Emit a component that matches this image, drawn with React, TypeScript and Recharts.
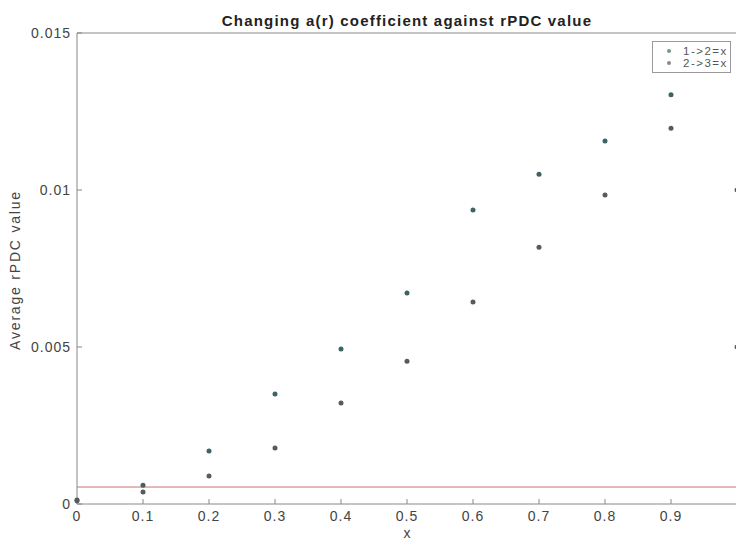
import React from 'react';
import { ScatterChart, Scatter, XAxis, YAxis, ReferenceLine, Legend } from 'recharts';

const xValues = [0, 0.1, 0.2, 0.3, 0.4, 0.5, 0.6, 0.7, 0.8, 0.9, 1];
const series1Values = [0.00013, 0.0006, 0.00169, 0.0035, 0.00494, 0.00672, 0.00936, 0.0105, 0.01156, 0.01303, 0.01];
const series2Values = [0.0001, 0.00038, 0.00089, 0.00178, 0.00322, 0.00455, 0.00643, 0.00818, 0.00984, 0.01197, 0.005];
const seriesNames = ['1->2=x', '2->3=x'];
const seriesColors = ['#3f6363', '#5a5a5a'];
const xTicks = [0, 0.1, 0.2, 0.3, 0.4, 0.5, 0.6, 0.7, 0.8, 0.9];
const yTicks = [0, 0.005, 0.01, 0.015];
const thresholdValue = 0.00054;
const titleText = 'Changing a(r) coefficient against rPDC value';
const xLabel = 'x';
const yLabel = 'Average rPDC value';

const data1 = xValues.map((x, i) => ({ x, y: series1Values[i] }));
const data2 = xValues.map((x, i) => ({ x, y: series2Values[i] }));

const FONT = '"Liberation Sans", Arial, sans-serif';

const Dot = (props: any) => {
  const { cx, cy, fill } = props;
  if (cx == null || cy == null) return null;
  return <circle cx={cx} cy={cy} r={2.5} fill={fill} />;
};

const renderLegend = () => (
  <div
    style={{
      border: '1px solid #999',
      background: '#fff',
      padding: '3px 2px 3px 14px',
      fontFamily: FONT,
      fontSize: 11.5,
      letterSpacing: '1.5px',
      color: '#555',
      lineHeight: '12px',
    }}
  >
    {seriesNames.map((n, i) => (
      <div key={n} style={{ display: 'flex', alignItems: 'center' }}>
        <span
          style={{
            display: 'inline-block',
            width: 4,
            height: 4,
            borderRadius: 2,
            background: i === 0 ? '#6f9a86' : '#8a8a8a',
            marginRight: 12,
          }}
        />
        <span>{n}</span>
      </div>
    ))}
  </div>
);

export default function App() {
  return (
    <div style={{ position: 'absolute', left: 0, top: 0, width: 736, height: 541, overflow: 'hidden', background: '#fff' }}>
      <div
        style={{
          position: 'absolute',
          left: 77,
          width: 660,
          top: 12,
          textAlign: 'center',
          fontFamily: FONT,
          fontWeight: 'bold',
          fontSize: 15,
          letterSpacing: '1.2px',
          lineHeight: '18px',
          color: '#222',
        }}
      >
        {titleText}
      </div>
      <ScatterChart width={745} height={541} margin={{ top: 3, right: 8, bottom: 0, left: 0 }}>
        <XAxis
          xAxisId="top"
          orientation="top"
          type="number"
          dataKey="x"
          domain={[0, 1]}
          ticks={xTicks}
          height={30}
          tick={false}
          tickSize={-5}
          axisLine={{ stroke: '#888' }}
          tickLine={{ stroke: '#888' }}
        />
        <XAxis
          type="number"
          dataKey="x"
          domain={[0, 1]}
          ticks={xTicks}
          height={37}
          tickSize={-5}
          tickMargin={12}
          interval={0}
          axisLine={{ stroke: '#888' }}
          tickLine={{ stroke: '#888' }}
          tick={{ fill: '#444', fontSize: 14, fontFamily: FONT, style: { letterSpacing: '1px' } }}
          label={{ value: xLabel, position: 'insideBottom', offset: 3, fill: '#444', fontSize: 14, fontFamily: FONT }}
        />
        <YAxis
          type="number"
          dataKey="y"
          domain={[0, 0.015]}
          ticks={yTicks}
          width={77}
          tickSize={-5}
          tickMargin={11}
          interval={0}
          axisLine={{ stroke: '#888' }}
          tickLine={{ stroke: '#888' }}
          tick={{ fill: '#444', fontSize: 14, fontFamily: FONT, style: { letterSpacing: '1px' } }}
          label={{
            content: () => (
              <text
                x={20}
                y={270}
                transform="rotate(-90 20 270)"
                textAnchor="middle"
                fill="#444"
                fontSize={14}
                fontFamily={FONT}
                style={{ letterSpacing: '1.8px' }}
              >
                {yLabel}
              </text>
            ),
          }}
        />
        <ReferenceLine y={thresholdValue} stroke="#d07070" strokeWidth={1} ifOverflow="extendDomain" />
        <Scatter name={seriesNames[0]} data={data1} fill={seriesColors[0]} shape={<Dot />} isAnimationActive={false} />
        <Scatter name={seriesNames[1]} data={data2} fill={seriesColors[1]} shape={<Dot />} isAnimationActive={false} />
        <Legend
          layout="vertical"
          align="center"
          verticalAlign="middle"
          content={renderLegend}
          wrapperStyle={{ top: 41, left: 652, width: 79 }}
        />
      </ScatterChart>
    </div>
  );
}
